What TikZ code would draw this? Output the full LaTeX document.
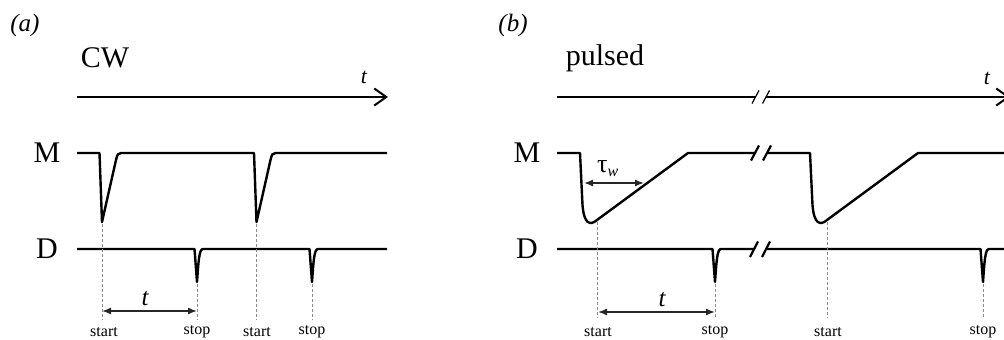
\documentclass[tikz,border=0pt]{standalone}
\usepackage{fontspec}
\setmainfont{Liberation Serif}
\usetikzlibrary{arrows.meta}
\tikzset{
  wave/.style={line width=2.4pt, line join=round},
  axisline/.style={line width=1.2pt},
  axisarrow/.style={axisline, -{Straight Barb[length=12pt,width=17pt,line width=2pt]}},
  guide/.style={black!45, line width=1pt, dash pattern=on 2.5pt off 2.5pt},
  span/.style={line width=1.4pt, black!85, {Latex[length=9pt,width=7pt]}-{Latex[length=9pt,width=7pt]}},
  lbl/.style={font=\fontsize{30}{30}\selectfont, inner sep=0},
  panel/.style={font=\itshape\fontsize{25}{25}\selectfont, inner sep=0},
  evt/.style={font=\fontsize{16}{16}\selectfont, inner sep=0, anchor=base},
  tl/.style={font=\itshape\fontsize{25}{25}\selectfont, inner sep=0},
  taxis/.style={font=\itshape\fontsize{22}{22}\selectfont, inner sep=0},
  brk/.style={line width=2.2pt},
  brkthin/.style={line width=1.2pt},
}
\begin{document}
\begin{tikzpicture}[x=1pt,y=-1pt]
\useasboundingbox (0,0) rectangle (1004,340);
\clip (0,0) rectangle (1004,340);

% ---------------- panel (a) ----------------
\node[panel] (pa) at (25,25) {(a)};
\node[lbl] (cw) at (105,58) {CW};

\coordinate (ax0) at (77,97);
\coordinate (ax1) at (388,97);
\draw[axisarrow] (ax0) -- (ax1);
\node[taxis] (ta) at (364,77) {t};

\node[lbl] (ma) at (47,153) {M};
\draw[wave] (77,153) -- (99.5,153) -- (102,222)
  -- (116,160) .. controls (117.3,154.5) and (118,153) .. (121,153)
  -- (254,153) -- (256.5,222)
  -- (270.5,160) .. controls (271.8,154.5) and (272.5,153) .. (275.5,153) -- (387,153);

\node[lbl] (da) at (47,249) {D};
\draw[wave] (77,249) -- (194.5,249) -- (197,282)
  .. controls (198.5,262) and (199,249) .. (203,249)
  -- (309.5,249) -- (312,282)
  .. controls (313.5,262) and (314,249) .. (318,249) -- (387,249);

\coordinate (g1t) at (102,224);   \coordinate (g1b) at (102,320);
\coordinate (g2t) at (197,284);   \coordinate (g2b) at (197,320);
\coordinate (g3t) at (256.5,224); \coordinate (g3b) at (256.5,320);
\coordinate (g4t) at (312,284);   \coordinate (g4b) at (312,320);
\draw[guide] (g1t) -- (g1b);
\draw[guide] (g2t) -- (g2b);
\draw[guide] (g3t) -- (g3b);
\draw[guide] (g4t) -- (g4b);

\coordinate (sa0) at (102,311); \coordinate (sa1) at (197,311);
\draw[span] (sa0) -- (sa1);
\node[tl] (tsa) at (145,299) {t};

\node[evt] (st1) at (104,336) {start};
\node[evt] (sp1) at (197,334) {stop};
\node[evt] (st2) at (257,336) {start};
\node[evt] (sp2) at (312,334) {stop};

% ---------------- panel (b) ----------------
\node[panel] (pb) at (513,25) {(b)};
\node[lbl, anchor=base] (pu) at (605,65) {pulsed};

\coordinate (bx0) at (557,97);
\coordinate (bx1) at (755.5,97);
\coordinate (bx2) at (766,97);
\coordinate (bx3) at (1010,97);
\draw[axisline] (bx0) -- (bx1);
\draw[axisarrow] (bx2) -- (bx3);
\draw[brkthin] (752,103.5) -- (759,90.5);
\draw[brkthin] (762.5,103.5) -- (769.5,90.5);
\node[taxis] (tb) at (987,78) {t};

\node[lbl] (mb) at (527,153) {M};
\draw[wave] (557,153) -- (580,153) -- (582.5,205)
  .. controls (584,224) and (590,226) .. (597,220)
  -- (688,153) -- (755,153);
\draw[wave] (767,153) -- (810,153) -- (812.5,205)
  .. controls (814,224) and (820,226) .. (827,220)
  -- (918,153) -- (1004,153);
\draw[brk] (751,160.5) -- (759,145.5);
\draw[brk] (763,160.5) -- (771,145.5);

\node[lbl] (db) at (527,249) {D};
\draw[wave] (557,249) -- (712.5,249) -- (715,282)
  .. controls (716.5,262) and (717,249) .. (721,249) -- (755,249);
\draw[wave] (767,249) -- (980.5,249) -- (983,282)
  .. controls (984.5,262) and (985,249) .. (989,249) -- (1004,249);
\draw[brk] (750,257) -- (758,241.5);
\draw[brk] (762,257) -- (770,241.5);

\coordinate (h1t) at (597,222); \coordinate (h1b) at (597,318);
\coordinate (h2t) at (715,284); \coordinate (h2b) at (715,318);
\coordinate (h3t) at (827,222); \coordinate (h3b) at (827,318);
\coordinate (h4t) at (983,284); \coordinate (h4b) at (983,318);
\draw[guide] (h1t) -- (h1b);
\draw[guide] (h2t) -- (h2b);
\draw[guide] (h3t) -- (h3b);
\draw[guide] (h4t) -- (h4b);

\coordinate (sb0) at (598,312); \coordinate (sb1) at (715,312);
\draw[span] (sb0) -- (sb1);
\node[tl] (tsb) at (662,300) {t};

\coordinate (tw0) at (584,183); \coordinate (tw1) at (644,183);
\draw[span] (tw0) -- (tw1);
\node[font=\fontsize{26}{26}\selectfont, inner sep=0, anchor=base west] (tau) at (597,172)
  {τ\raisebox{-4pt}{\fontsize{16}{16}\selectfont\itshape w}};

\node[evt] (st3) at (598,336) {start};
\node[evt] (sp3) at (715,334) {stop};
\node[evt] (st4) at (828,336) {start};
\node[evt] (sp4) at (983,334) {stop};
\end{tikzpicture}
\end{document}
